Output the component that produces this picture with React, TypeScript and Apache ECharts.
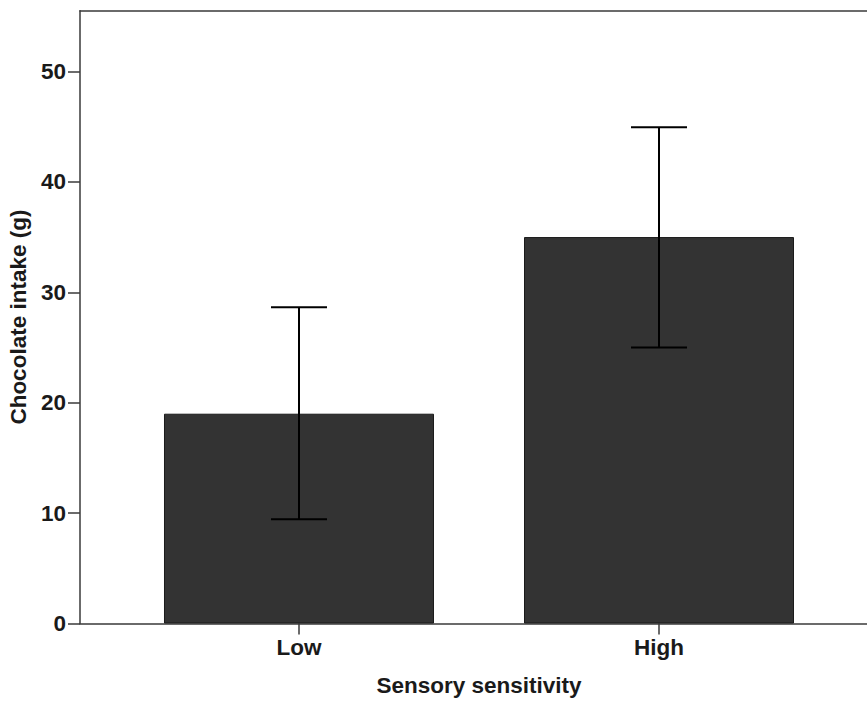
import React, { useEffect, useRef } from "react";
import * as echarts from "echarts";

const categories = ["Low", "High"];
const means = [19.0, 35.0];
const errLow = [9.45, 25.0];
const errHigh = [28.65, 44.95];
const yTicks = [0, 10, 20, 30, 40, 50];
const yMax = 55.5;

const FONT = "'Liberation Sans', Arial, sans-serif";
const FS = 22.5;
const FW = "bold";
const TC = "#1a1a1a";

export default function App() {
  const ref = useRef<HTMLDivElement>(null);
  useEffect(() => {
    if (!ref.current) return;
    const chart = echarts.init(ref.current, undefined, { renderer: "svg" });
    const xIdx = categories.map((_, i) => i);
    const pad = 0.6083;
    const axisLineStyle = { color: "#3a3a3a", width: 1.5 };
    chart.setOption({
      animation: false,
      backgroundColor: "#ffffff",
      grid: {
        left: 80,
        right: -11,
        top: 10.7,
        bottom: 77.5,
        outerBoundsMode: "none",
        containLabel: false,
        show: false,
      },
      xAxis: [
        {
          type: "value",
          min: -pad,
          max: 1 + pad,
          name: "Sensory sensitivity",
          nameLocation: "middle",
          nameGap: 50,
          nameTextStyle: { fontFamily: FONT, fontSize: FS, fontWeight: FW, color: TC },
          splitLine: { show: false },
          axisLine: { show: true, onZero: false, lineStyle: axisLineStyle },
          axisTick: {
            show: true,
            length: 11,
            customValues: xIdx,
            lineStyle: axisLineStyle,
          },
          axisLabel: {
            customValues: xIdx,
            margin: 12,
            fontFamily: FONT,
            fontSize: FS,
            fontWeight: FW,
            color: TC,
            formatter: (v: number) => categories[Math.round(v)] ?? "",
          },
        },
        {
          type: "value",
          position: "top",
          min: -pad,
          max: 1 + pad,
          splitLine: { show: false },
          axisLine: { show: true, onZero: false, lineStyle: axisLineStyle },
          axisTick: { show: false },
          axisLabel: { show: false },
        },
      ],
      yAxis: {
        type: "value",
        min: 0,
        max: yMax,
        name: "Chocolate intake (g)",
        nameLocation: "middle",
        nameGap: 47,
        nameRotate: 90,
        nameTextStyle: { fontFamily: FONT, fontSize: FS, fontWeight: FW, color: TC },
        splitLine: { show: false },
        axisLine: { show: true, onZero: false, lineStyle: axisLineStyle },
        axisTick: {
          show: true,
          length: 12,
          customValues: yTicks,
          lineStyle: axisLineStyle,
        },
        axisLabel: {
          customValues: yTicks,
          margin: 14,
          fontFamily: FONT,
          fontSize: FS,
          fontWeight: FW,
          color: TC,
        },
      },
      series: [
        {
          type: "bar",
          xAxisIndex: 0,
          data: means.map((m, i) => [i, m]),
          barWidth: 270,
          itemStyle: { color: "#333333", borderColor: "#1a1a1a", borderWidth: 1 },
          z: 2,
        },
        {
          type: "custom",
          xAxisIndex: 0,
          data: means.map((_, i) => [i, errLow[i], errHigh[i]]),
          z: 5,
          renderItem: (params: any, api: any) => {
            const x = api.value(0);
            const lo = api.coord([x, api.value(1)]);
            const hi = api.coord([x, api.value(2)]);
            const half = 28;
            const style = { stroke: "#000", lineWidth: 2 };
            return {
              type: "group",
              children: [
                { type: "line", shape: { x1: lo[0], y1: lo[1], x2: hi[0], y2: hi[1] }, style },
                { type: "line", shape: { x1: hi[0] - half, y1: hi[1], x2: hi[0] + half, y2: hi[1] }, style },
                { type: "line", shape: { x1: lo[0] - half, y1: lo[1], x2: lo[0] + half, y2: lo[1] }, style },
              ],
            };
          },
        },
      ],
    });
    return () => chart.dispose();
  }, []);
  return <div ref={ref} style={{ width: 867, height: 701, position: "absolute", left: 0, top: 0 }} />;
}
